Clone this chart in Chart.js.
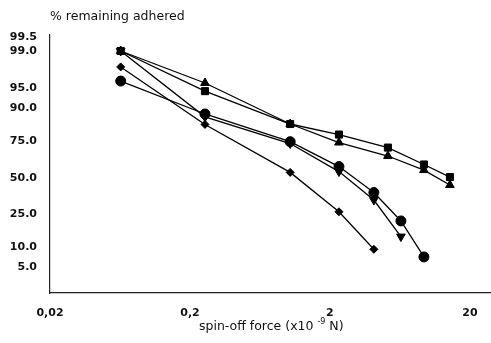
<!DOCTYPE html>
<html>
<head>
<meta charset="utf-8">
<script src="https://cdn.jsdelivr.net/npm/chart.js@4/dist/chart.umd.min.js"></script>
<style>
  html, body { margin: 0; padding: 0; background: #fff; }
  canvas { display: block; }
</style>
</head>
<body>
<canvas id="c" width="491" height="343"></canvas>
<script>
// ---- data ----
const yTitle = "% remaining adhered";
const xTitleMain = "spin-off force (x10 ";
const xTitleSup = "-9";
const xTitleEnd = " N)";
const xTickValues = [0.02, 0.2, 2, 20];
const xTickLabels = ["0,02", "0,2", "2", "20"];
const yTickValues = [99.5, 99.0, 95.0, 90.0, 75.0, 50.0, 25.0, 10.0, 5.0];

const forceSquare   = [0.064, 0.256, 1.04, 2.32, 5.19, 9.39, 14.4];
const adhSquare     = [99.0, 94.4, 83.8, 78.6, 71.0, 59.6, 50.5];
const forceTriUp    = [0.064, 0.256, 1.04, 2.32, 5.19, 9.39, 14.4];
const adhTriUp      = [99.0, 95.9, 83.8, 74.1, 65.5, 55.6, 44.7];
const forceCircle   = [0.064, 0.256, 1.04, 2.32, 4.12, 6.43, 9.39];
const adhCircle     = [96.2, 87.9, 74.6, 58.1, 39.3, 21.4, 7.3];
const forceTriDown  = [0.064, 0.256, 1.04, 2.32, 4.12, 6.43];
const adhTriDown    = [99.0, 86.8, 73.5, 54.5, 34.1, 14.0];
const forceDiamond  = [0.064, 0.256, 1.04, 2.32, 4.12];
const adhDiamond    = [97.9, 83.6, 53.9, 26.6, 9.45];

const xMin = 0.02, xMax = 28.3;
const yMinPct = 1.72, yMaxPct = 99.56;

// ---- probability (probit) transform for the y scale ----
function probit(p) {
  const a=[-3.969683028665376e+01,2.209460984245205e+02,-2.759285104469687e+02,1.383577518672690e+02,-3.066479806614716e+01,2.506628277459239e+00];
  const b=[-5.447609879822406e+01,1.615858368580409e+02,-1.556989798598866e+02,6.680131188771972e+01,-1.328068155288572e+01];
  const c=[-7.784894002430293e-03,-3.223964580411365e-01,-2.400758277161838e+00,-2.549732539343734e+00,4.374664141464968e+00,2.938163982698783e+00];
  const d=[7.784695709041462e-03,3.224671290700398e-01,2.445134137142996e+00,3.754408661907416e+00];
  const pl = 0.02425, ph = 1 - pl;
  let q, r;
  if (p < pl) {
    q = Math.sqrt(-2 * Math.log(p));
    return (((((c[0]*q+c[1])*q+c[2])*q+c[3])*q+c[4])*q+c[5]) / ((((d[0]*q+d[1])*q+d[2])*q+d[3])*q+1);
  }
  if (p <= ph) {
    q = p - 0.5; r = q * q;
    return (((((a[0]*r+a[1])*r+a[2])*r+a[3])*r+a[4])*r+a[5])*q / (((((b[0]*r+b[1])*r+b[2])*r+b[3])*r+b[4])*r+1);
  }
  q = Math.sqrt(-2 * Math.log(1 - p));
  return -(((((c[0]*q+c[1])*q+c[2])*q+c[3])*q+c[4])*q+c[5]) / ((((d[0]*q+d[1])*q+d[2])*q+d[3])*q+1);
}
const toPts = (xs, ys) => xs.map((x, i) => ({ x: x, y: probit(ys[i] / 100) }));

function ds(xs, ys, style, radius, rotation) {
  return {
    data: toPts(xs, ys),
    borderColor: '#000',
    backgroundColor: '#000',
    borderWidth: 1.3,
    pointStyle: style,
    pointRadius: radius,
    pointHoverRadius: radius,
    pointRotation: rotation || 0,
    pointBorderWidth: 1,
    pointBackgroundColor: '#000',
    pointBorderColor: '#000',
    tension: 0,
    clip: false,
    fill: false
  };
}

const textPlugin = {
  id: 'texts',
  afterDraw(chart) {
    const ctx = chart.ctx;
    ctx.save();
    ctx.fillStyle = '#111';
    ctx.textBaseline = 'middle';
    ctx.textAlign = 'left';
    ctx.font = '12.5px "DejaVu Sans"';
    ctx.fillText(yTitle, 50, 17);
    // x axis title
    let x = 199, y = 327;
    ctx.font = '12.5px "DejaVu Sans"';
    ctx.fillText(xTitleMain, x, y);
    x += ctx.measureText(xTitleMain).width;
    ctx.font = '8px "DejaVu Sans"';
    ctx.fillText(xTitleSup, x, y - 5);
    x += ctx.measureText(xTitleSup).width;
    ctx.font = '12.5px "DejaVu Sans"';
    ctx.fillText(xTitleEnd, x, y);
    ctx.restore();
  }
};

const tickFont = { family: '"DejaVu Sans"', size: 11, weight: 'bold' };

new Chart(document.getElementById('c'), {
  type: 'line',
  data: {
    datasets: [
      ds(forceSquare, adhSquare, 'rect', 5),
      ds(forceTriUp, adhTriUp, 'triangle', 5),
      ds(forceCircle, adhCircle, 'circle', 5),
      ds(forceTriDown, adhTriDown, 'triangle', 5, 180),
      ds(forceDiamond, adhDiamond, 'rectRot', 4)
    ]
  },
  options: {
    responsive: false,
    animation: false,
    layout: { autoPadding: false, padding: { top: 35, left: 0, right: 0, bottom: 0 } },
    plugins: { legend: { display: false }, tooltip: { enabled: false }, title: { display: false } },
    scales: {
      x: {
        type: 'logarithmic',
        min: xMin, max: xMax,
        grid: { display: false, drawTicks: false, tickLength: 0 },
        border: { display: true, color: '#222', width: 1.2 },
        afterBuildTicks: (s) => { s.ticks = xTickValues.map(v => ({ value: v })); },
        afterFit: (s) => { s.height = 50; s.paddingRight = 0; s.paddingLeft = 0; },
        ticks: {
          autoSkip: false, maxRotation: 0, padding: 14, color: '#111', font: tickFont,
          callback: (v, i) => xTickLabels[i]
        }
      },
      y: {
        type: 'linear',
        min: probit(yMinPct / 100), max: probit(yMaxPct / 100),
        grid: { display: false, drawTicks: false, tickLength: 0 },
        border: { display: true, color: '#222', width: 1.2 },
        afterBuildTicks: (s) => { s.ticks = yTickValues.map(v => ({ value: probit(v / 100) })); },
        afterFit: (s) => { s.width = 50; s.paddingTop = 0; s.paddingBottom = 0; },
        ticks: {
          autoSkip: false, padding: 13, color: '#111', font: tickFont,
          callback: (v, i) => yTickValues[i].toFixed(1)
        }
      }
    }
  },
  plugins: [textPlugin]
});
</script>
</body>
</html>
